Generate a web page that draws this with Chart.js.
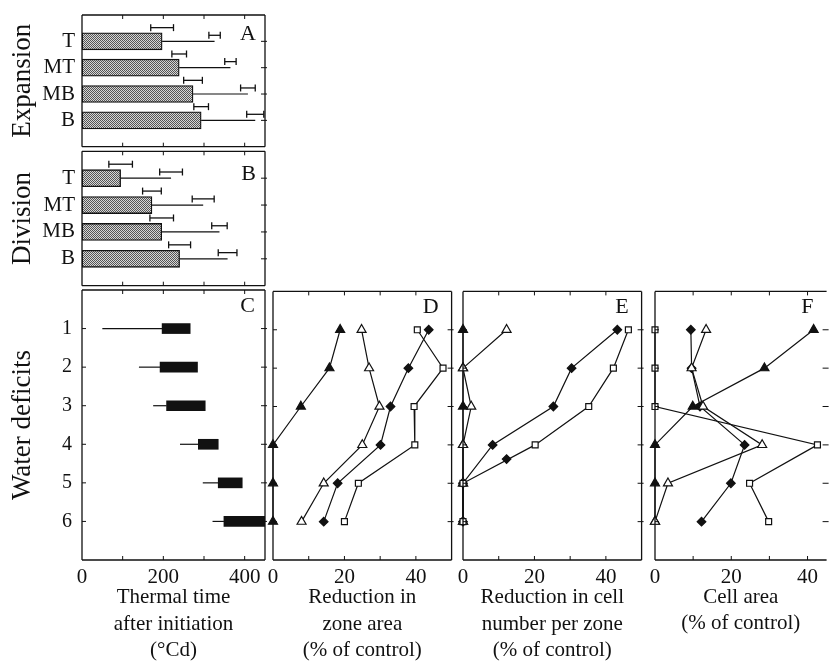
<!DOCTYPE html>
<html>
<head>
<meta charset="utf-8">
<script src="https://cdn.jsdelivr.net/npm/chart.js@4.4.1/dist/chart.umd.min.js"></script>
<style>
  html, body { margin: 0; padding: 0; background: #fff; width: 833px; height: 664px; overflow: hidden; position: relative; }
  canvas { position: absolute; }
</style>
</head>
<body>
<canvas id="cA" style="left:0px;top:0px" width="272" height="152"></canvas>
<canvas id="cB" style="left:0px;top:146px" width="272" height="145"></canvas>
<canvas id="cC" style="left:0px;top:285px" width="272" height="379"></canvas>
<canvas id="cD" style="left:262px;top:285px" width="196" height="379"></canvas>
<canvas id="cE" style="left:452px;top:285px" width="196" height="379"></canvas>
<canvas id="cF" style="left:644px;top:285px" width="189" height="379"></canvas>
<script>
// ---------------- DATA ----------------
const zones = ['T', 'MT', 'MB', 'B'];

// Panel A: Expansion (thermal time, °Cd)
const expansionEnd     = [197, 239, 273, 293];
const expansionEndSE   = [28, 18, 23, 18];
const expansionLineEnd = [326, 365, 408, 426];
const expansionLineSE  = [14, 14, 18, 21];

// Panel B: Division (thermal time, °Cd)
const divisionEnd      = [95, 172, 196, 240];
const divisionEndSE    = [29, 23, 29, 27];
const divisionLineEnd  = [219, 298, 338, 358];
const divisionLineSE   = [28, 27, 19, 23];

// Panel C: water deficits timing (°Cd)
const deficits          = [1, 2, 3, 4, 5, 6];
const deficitLineStart  = [50, 140, 175, 241, 297, 321];
const deficitBarStart   = [197, 192, 208, 286, 335, 349];
const deficitBarEnd     = [266, 284, 303, 335, 394, 450];

// Panel D: reduction in zone area (% of control)
const zoneAreaFilledTri = [18.8, 15.8, 7.8, 0, 0, 0];
const zoneAreaOpenTri   = [24.8, 26.9, 29.8, 25.0, 14.2, 8.0];
const zoneAreaDiamond   = [43.6, 37.9, 32.9, 30.1, 18.1, 14.2];
const zoneAreaSquare    = [40.4, 47.6, 39.5, 39.7, 23.9, 20.0];

// Panel E: reduction in cell number per zone (% of control)
const cellNumFilledTri  = [0, 0, 0, 0, 0, 0];
const cellNumOpenTri    = [12.2, 0, 2.3, 0, 0, 0];
const cellNumDiamond    = [43.2, 30.4, 25.3, 8.3, 0, 0];
const cellNumSquare     = [46.3, 42.1, 35.2, 20.2, 0, 0];
const cellNumExtraDiamondX = [12.2];
const cellNumExtraDiamondY = [4.37];

// Panel F: cell area (% of control)
const cellAreaFilledTri = [41.6, 28.7, 9.9, 0, 0, 0];
const cellAreaOpenTri   = [13.4, 9.6, 12.6, 28.1, 3.4, 0];
const cellAreaDiamond   = [9.4, 9.6, 11.8, 23.5, 19.9, 12.2];
const cellAreaSquare    = [0, 0, 0, 42.6, 24.8, 29.8];

// Ticks and labels
const thermalTicks      = [0, 100, 200, 300, 400];
const thermalTickLabels = ['0', '', '200', '', '400'];
const pctTicks          = [0, 10, 20, 30, 40];
const pctTickLabels     = ['0', '', '20', '', '40'];

const titleC = ['Thermal time', 'after initiation', '(°Cd)'];
const titleD = ['Reduction in', 'zone area', '(% of control)'];
const titleE = ['Reduction in cell', 'number per zone', '(% of control)'];
const titleF = ['Cell area', '(% of control)'];

// ---------------- STYLE ----------------
const INK = '#111';
const SERIF = "'Liberation Serif', 'Times New Roman', serif";
const ERR_LOW = -0.52, ERR_HIGH = -0.23;

const stipple = (() => {
  const c = document.createElement('canvas'); c.width = 2; c.height = 2;
  const g = c.getContext('2d');
  g.fillStyle = '#d6d6d6'; g.fillRect(0, 0, 2, 2);
  g.fillStyle = '#555'; g.fillRect(0, 0, 1, 1); g.fillRect(1, 1, 1, 1);
  return g.createPattern(c, 'repeat');
})();

const frame = {
  id: 'frame',
  afterDatasetsDraw(chart, _args, o) {
    const { ctx, chartArea: a } = chart;
    const x = chart.scales.x, y = chart.scales.y;
    ctx.save();
    ctx.strokeStyle = INK; ctx.lineWidth = 1.3;
    ctx.beginPath();
    ctx.moveTo(a.left, a.top); ctx.lineTo(a.right, a.top);
    ctx.moveTo(a.left, a.bottom); ctx.lineTo(a.right, a.bottom);
    ctx.moveTo(a.left, a.top); ctx.lineTo(a.left, a.bottom);
    if (o.rightBorder !== false) { ctx.moveTo(a.right, a.top); ctx.lineTo(a.right, a.bottom); }
    ctx.stroke();
    ctx.lineWidth = 1;
    ctx.beginPath();
    const L = 4;
    (o.xTicks || []).forEach(v => {
      const p = x.getPixelForValue(v);
      if (p <= a.left + 1 || p >= a.right - 1) return;
      ctx.moveTo(p, a.top); ctx.lineTo(p, a.top + L);
      ctx.moveTo(p, a.bottom); ctx.lineTo(p, a.bottom - L);
    });
    (o.yTicks || []).forEach(v => {
      const p = y.getPixelForValue(v);
      if (o.leftTicks !== false) { ctx.moveTo(a.left, p); ctx.lineTo(a.left + L, p); }
      ctx.moveTo(a.right - L, p); ctx.lineTo(a.right + 2, p);
    });
    ctx.stroke();
    if (o.letter) {
      ctx.fillStyle = INK;
      ctx.font = '22px ' + SERIF;
      ctx.textAlign = 'right';
      ctx.textBaseline = 'alphabetic';
      ctx.fillText(o.letter, a.right - o.letterDx, a.top + o.letterDy);
    }
    ctx.restore();
  }
};

const baseOpts = {
  responsive: false, animation: false, events: []
};

const ERR = {
  type: 'scatter', showLine: true, borderColor: INK, borderWidth: 1.3,
  pointStyle: 'line', pointRotation: 90, pointRadius: 3.5, pointBorderColor: INK,
  pointBorderWidth: 1.3, clip: false, order: 0
};

function fixWidth(w) {
  return s => { s.width = w; s.paddingTop = 0; s.paddingBottom = 0; };
}

// ---------------- PANELS A & B ----------------
function zonePanel(id, ends, endSE, lineEnds, lineSE, title, letter, padTop, letterDy) {
  const ds = [{
    type: 'bar', indexAxis: 'y',
    data: zones.map((_, i) => ({ x: ends[i], y: i })),
    backgroundColor: stipple, borderColor: INK, borderWidth: 1.3,
    borderSkipped: false, barThickness: 17, order: 5
  }];
  zones.forEach((_, i) => {
    ds.push({ type: 'scatter', showLine: true, data: [{ x: ends[i], y: i }, { x: lineEnds[i], y: i }],
      borderColor: INK, borderWidth: 1.2, pointRadius: 0, order: 1 });
    ds.push(Object.assign({}, ERR, { data: [{ x: ends[i] - endSE[i], y: i + ERR_LOW }, { x: ends[i] + endSE[i], y: i + ERR_LOW }] }));
    ds.push(Object.assign({}, ERR, { data: [{ x: lineEnds[i] - lineSE[i], y: i + ERR_HIGH }, { x: lineEnds[i] + lineSE[i], y: i + ERR_HIGH }] }));
  });
  new Chart(document.getElementById(id), {
    type: 'scatter',
    data: { datasets: ds },
    options: Object.assign({}, baseOpts, {
      layout: { padding: { top: padTop, right: 7, bottom: 3, left: 0 } },
      plugins: {
        legend: { display: false }, tooltip: { enabled: false },
        frame: { xTicks: thermalTicks, yTicks: zones.map((_, i) => i), leftTicks: false, letter, letterDx: 9, letterDy }
      },
      scales: {
        x: { type: 'linear', min: 0, max: 450, offset: false, display: false },
        y: {
          type: 'linear', min: -1, max: 4, reverse: true, offset: false,
          afterBuildTicks: s => { s.ticks = zones.map((_, i) => ({ value: i })); },
          afterFit: fixWidth(82),
          grid: { display: false, drawTicks: false, offset: false }, border: { display: false },
          ticks: { callback: v => zones[v], font: { family: SERIF, size: 21 }, color: INK, padding: 7 },
          title: { display: true, text: title, font: { family: SERIF, size: 27 }, color: INK, padding: { top: 7, bottom: 0 } }
        }
      }
    }),
    plugins: [frame]
  });
}
zonePanel('cA', expansionEnd, expansionEndSE, expansionLineEnd, expansionLineSE, 'Expansion', 'A', 15, 25);
zonePanel('cB', divisionEnd, divisionEndSE, divisionLineEnd, divisionLineSE, 'Division', 'B', 5, 29);

// ---------------- shared bottom x axis ----------------
function bottomAxis(min, max, tickVals, tickLabels, title, titlePadBottom) {
  return {
    type: 'linear', position: 'bottom', min, max, offset: false,
    afterBuildTicks: s => { s.ticks = tickVals.map(v => ({ value: v })); },
    afterFit: s => { s.height = 104; s.paddingLeft = 0; s.paddingRight = 0; },
    grid: { display: false, drawTicks: false }, border: { display: false },
    ticks: { callback: (v, i) => tickLabels[i], autoSkip: false, maxRotation: 0, font: { family: SERIF, size: 21 }, color: INK, padding: 5 },
    title: { display: true, text: title, font: { family: SERIF, size: 21, lineHeight: 1.27 }, color: INK, padding: { top: 0, bottom: titlePadBottom } }
  };
}

// ---------------- PANEL C ----------------
(function () {
  const ds = [{
    type: 'bar', indexAxis: 'y',
    data: deficits.map((lv, i) => ({ x: [deficitBarStart[i], deficitBarEnd[i]], y: lv })),
    backgroundColor: INK, borderWidth: 0, barThickness: 10, order: 2
  }];
  deficits.forEach((lv, i) => {
    ds.push({ type: 'scatter', showLine: true, data: [{ x: deficitLineStart[i], y: lv }, { x: deficitBarStart[i], y: lv }],
      borderColor: INK, borderWidth: 1.2, pointRadius: 0, order: 1 });
  });
  new Chart(document.getElementById('cC'), {
    type: 'scatter',
    data: { datasets: ds },
    options: Object.assign({}, baseOpts, {
      layout: { padding: { top: 5, right: 7, bottom: 0, left: 0 } },
      plugins: {
        legend: { display: false }, tooltip: { enabled: false },
        frame: { xTicks: thermalTicks, yTicks: deficits, letter: 'C', letterDx: 10, letterDy: 22 }
      },
      scales: {
        x: bottomAxis(0, 450, thermalTicks, thermalTickLabels, titleC, 0),
        y: {
          type: 'linear', min: 0, max: 7, reverse: true, offset: false,
          afterBuildTicks: s => { s.ticks = deficits.map(v => ({ value: v })); },
          afterFit: fixWidth(82),
          grid: { display: false, drawTicks: false, offset: false }, border: { display: false },
          ticks: { callback: v => String(v), font: { family: SERIF, size: 20 }, color: INK, padding: 10 },
          title: { display: true, text: 'Water deficits', font: { family: SERIF, size: 27 }, color: INK, padding: { top: 7, bottom: 0 } }
        }
      }
    }),
    plugins: [frame]
  });
})();

// ---------------- PANELS D, E, F ----------------
function series(vals, style, fill, r, order) {
  return {
    type: 'scatter', showLine: true,
    data: deficits.map((lv, i) => ({ x: vals[i], y: lv })),
    borderColor: INK, borderWidth: 1.2,
    pointStyle: style, pointRadius: r, pointBackgroundColor: fill,
    pointBorderColor: INK, pointBorderWidth: 1.2, clip: false, order
  };
}
function pctPanel(id, datasets, max, title, titlePadBottom, letter, padRight, rightBorder) {
  new Chart(document.getElementById(id), {
    type: 'scatter',
    data: { datasets },
    options: Object.assign({}, baseOpts, {
      layout: { padding: { top: 5, right: padRight, bottom: 0, left: 11 } },
      plugins: {
        legend: { display: false }, tooltip: { enabled: false },
        frame: { xTicks: pctTicks, yTicks: deficits, letter, letterDx: 13, letterDy: 22, rightBorder }
      },
      scales: {
        x: bottomAxis(0, max, pctTicks, pctTickLabels, title, titlePadBottom),
        y: { type: 'linear', min: 0, max: 7, reverse: true, offset: false, display: false }
      }
    }),
    plugins: [frame]
  });
}
function markerSet(filledTri, openTri, diamond, square) {
  return [
    series(filledTri, 'triangle', INK, 5.2, 3),
    series(diamond, 'rectRot', INK, 4.3, 2),
    series(openTri, 'triangle', '#fff', 5.2, 1),
    series(square, 'rect', '#fff', 4.2, 0)
  ];
}
pctPanel('cD', markerSet(zoneAreaFilledTri, zoneAreaOpenTri, zoneAreaDiamond, zoneAreaSquare), 50, titleD, 0, 'D', 5, true);

const eSets = markerSet(cellNumFilledTri, cellNumOpenTri, cellNumDiamond, cellNumSquare);
eSets.push({
  type: 'scatter', data: cellNumExtraDiamondX.map((v, i) => ({ x: v, y: cellNumExtraDiamondY[i] })),
  pointStyle: 'rectRot', pointRadius: 4.3, pointBackgroundColor: INK, pointBorderColor: INK, pointBorderWidth: 1.2, clip: false, order: 0
});
pctPanel('cE', eSets, 50, titleE, 0, 'E', 4, true);

pctPanel('cF', markerSet(cellAreaFilledTri, cellAreaOpenTri, cellAreaDiamond, cellAreaSquare), 45, titleF, 27, 'F', 0, false);
</script>
</body>
</html>
